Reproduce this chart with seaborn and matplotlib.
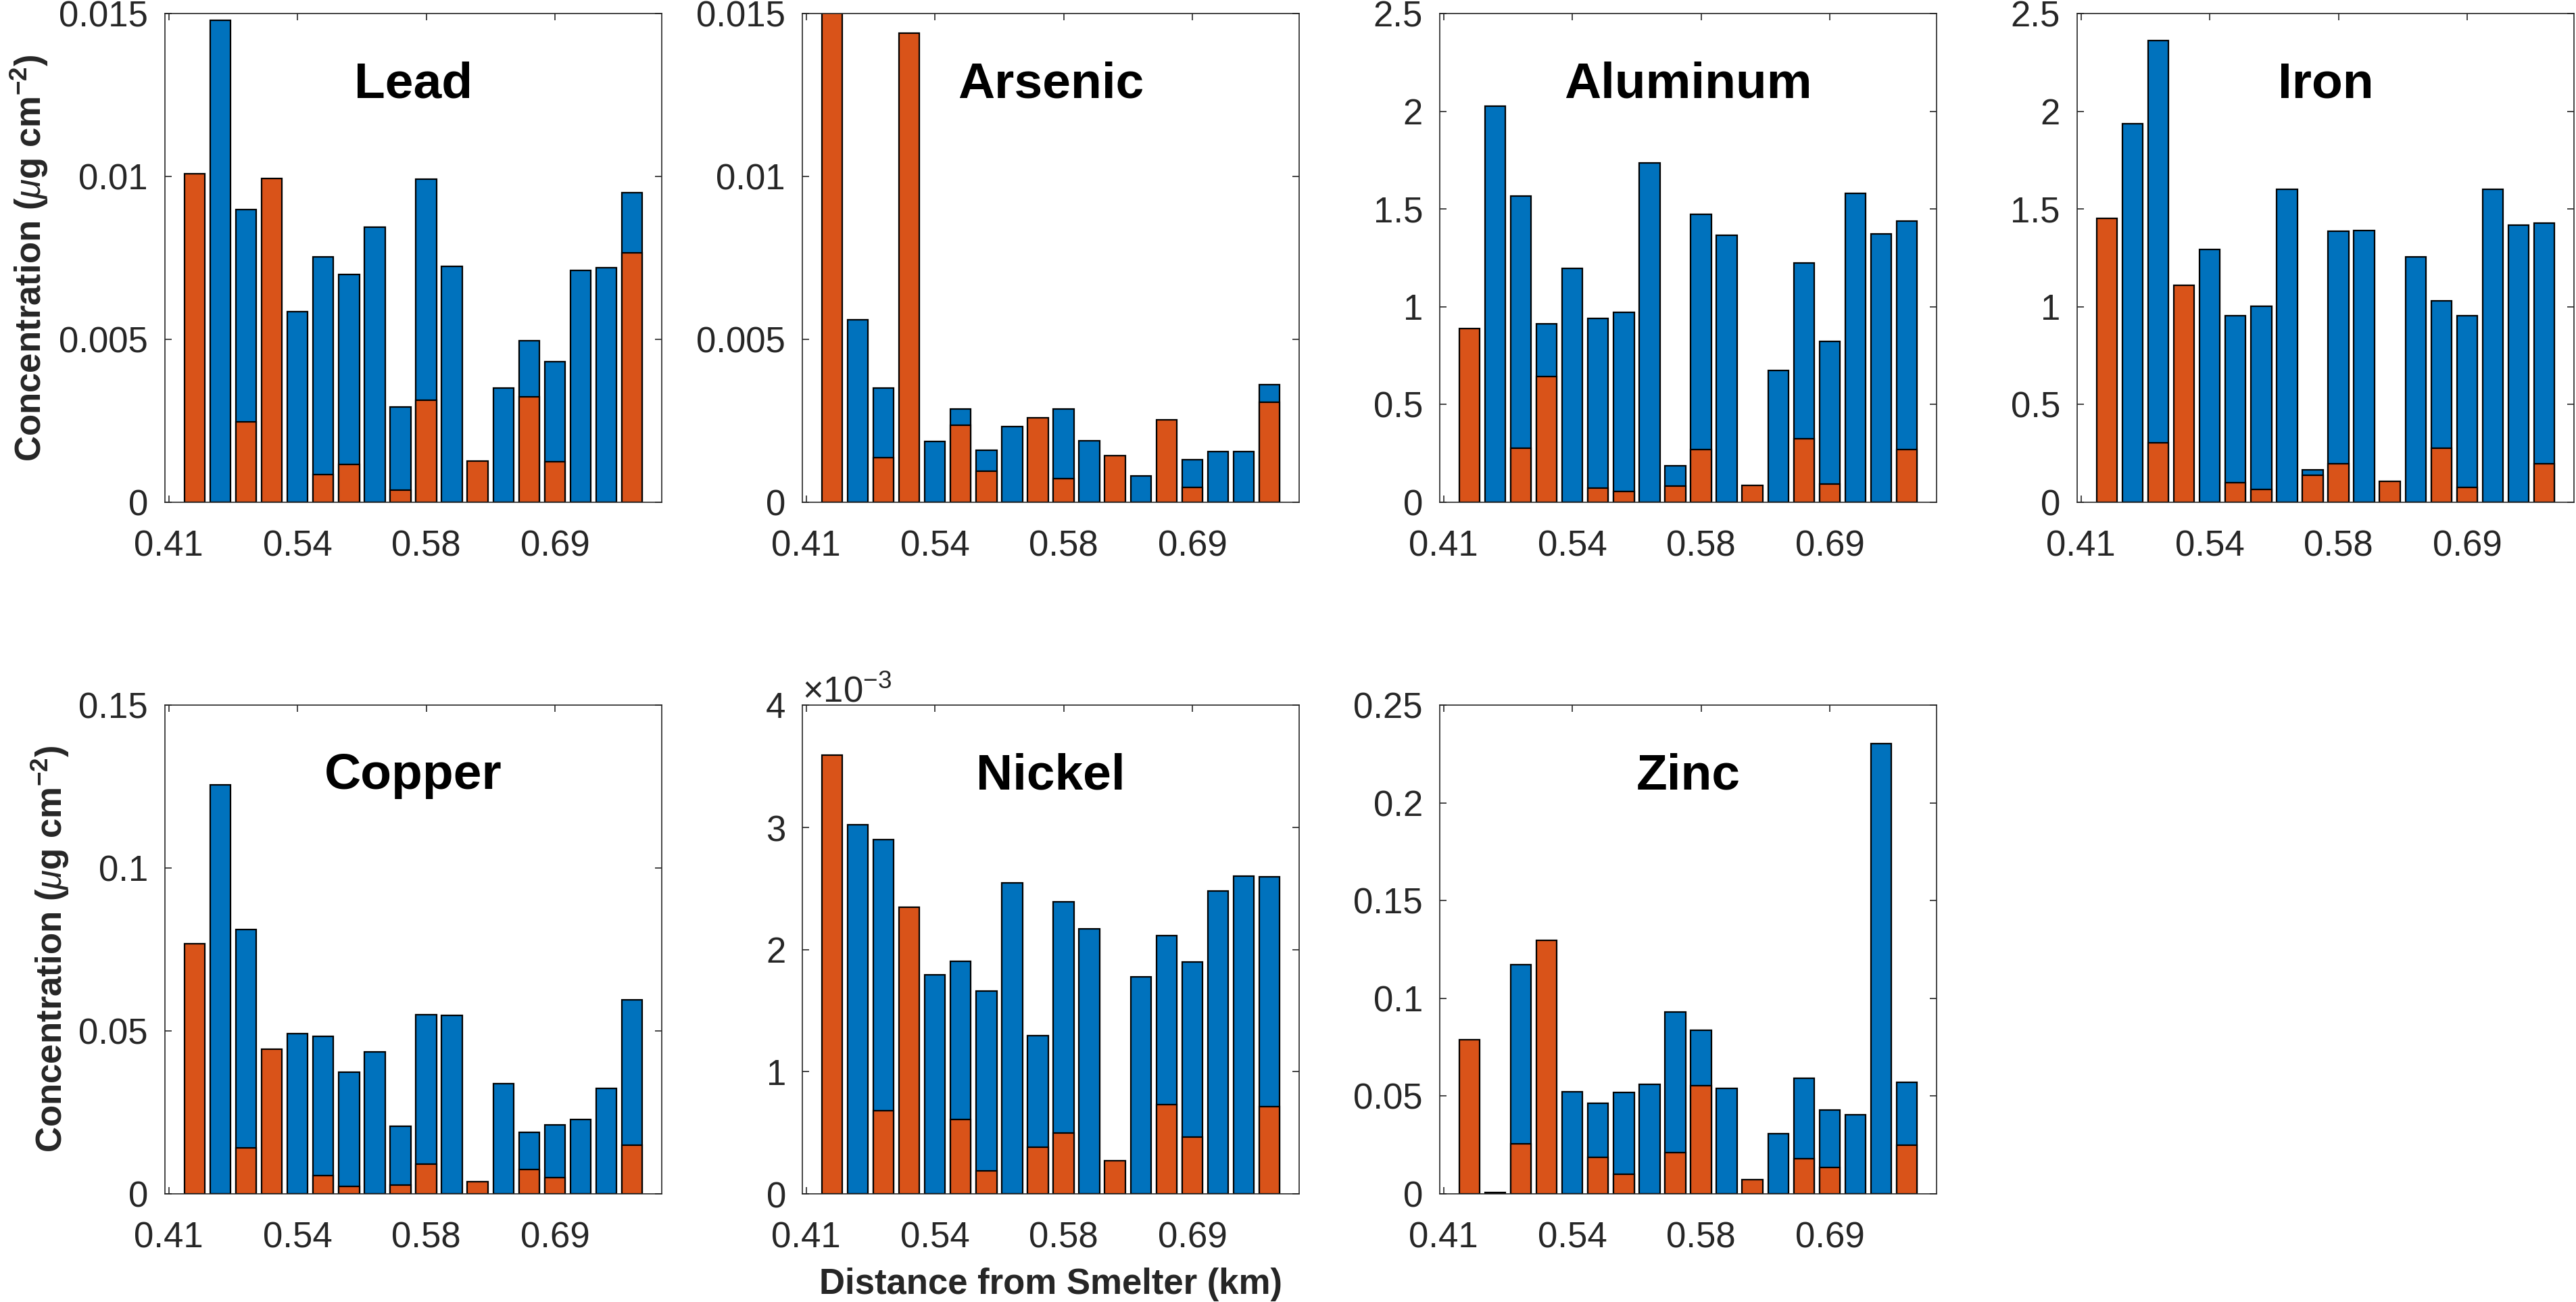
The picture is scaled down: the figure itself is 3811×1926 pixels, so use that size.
import matplotlib
matplotlib.use("Agg")
import matplotlib.pyplot as plt
import seaborn as sns
from matplotlib.ticker import FuncFormatter, ScalarFormatter

sns.set_theme(style="ticks")
plt.rcParams["font.family"] = ["Liberation Sans", "DejaVu Sans"]
plt.rcParams["mathtext.fontset"] = "custom"
plt.rcParams["mathtext.rm"] = "Liberation Sans"
plt.rcParams["mathtext.it"] = "Liberation Sans:italic"
plt.rcParams["mathtext.bf"] = "Liberation Sans:bold"

# ------------------------------------------------------------
# Data (18 sampling sites, two overlaid series per element)
# ------------------------------------------------------------
sites = [1, 2, 3, 4, 5, 6, 7, 8, 9, 10, 11, 12, 13, 14, 15, 16, 17, 18]
tick_pos = [0, 5, 10, 15]
tick_labels = ["0.41", "0.54", "0.58", "0.69"]

lead_bg = [0, 0.0148, 0.00898, 0, 0.00585, 0.00753, 0.0070, 0.00845, 0.00293,
           0.00992, 0.00725, 0, 0.0035, 0.00496, 0.00432, 0.00712, 0.0072, 0.0095]
lead_fg = [0.01009, 0, 0.00246, 0.00993, 0, 0.00086, 0.00116, 0, 0.00037,
           0.00314, 0, 0.00127, 0, 0.00323, 0.00125, 0, 0, 0.00766]

arsenic_bg = [0, 0.0056, 0.0035, 0, 0.00187, 0.00287, 0.0016, 0.00233, 0,
              0.00287, 0.00189, 0, 0.00081, 0, 0.0013, 0.00156, 0.00156, 0.0036]
arsenic_fg = [0.0155, 0, 0.00137, 0.0144, 0, 0.00237, 0.00095, 0, 0.00259,
              0.00072, 0, 0.00143, 0, 0.00254, 0.00046, 0, 0, 0.00307]

aluminum_bg = [0, 2.025, 1.567, 0.914, 1.197, 0.940, 0.970, 1.736, 0.188,
               1.472, 1.366, 0, 0.673, 1.225, 0.824, 1.581, 1.373, 1.440]
aluminum_fg = [0.889, 0, 0.276, 0.643, 0, 0.072, 0.055, 0, 0.083,
               0.268, 0, 0.085, 0, 0.324, 0.092, 0, 0, 0.269]

iron_bg = [0, 1.938, 2.361, 0, 1.292, 0.954, 1.004, 1.600, 0.165,
           1.386, 1.391, 0, 1.254, 1.032, 0.956, 1.600, 1.419, 1.428]
iron_fg = [1.452, 0, 0.306, 1.109, 0, 0.102, 0.065, 0, 0.137,
           0.197, 0, 0.106, 0, 0.278, 0.076, 0, 0, 0.197]

copper_bg = [0, 0.1255, 0.0811, 0, 0.0492, 0.0484, 0.0374, 0.0436, 0.0207,
             0.0550, 0.0547, 0, 0.0338, 0.0188, 0.0212, 0.0228, 0.0324, 0.0595]
copper_fg = [0.0767, 0, 0.0141, 0.0444, 0, 0.0056, 0.0022, 0, 0.0028,
             0.0092, 0, 0.0038, 0, 0.0075, 0.0050, 0, 0, 0.0150]

nickel_bg = [0, 3.020e-3, 2.899e-3, 0, 1.791e-3, 1.905e-3, 1.660e-3, 2.544e-3, 1.294e-3,
             2.388e-3, 2.167e-3, 0, 1.777e-3, 2.116e-3, 1.895e-3, 2.481e-3, 2.599e-3, 2.595e-3]
nickel_fg = [3.593e-3, 0, 0.683e-3, 2.347e-3, 0, 0.607e-3, 0.190e-3, 0, 0.380e-3,
             0.500e-3, 0, 0.273e-3, 0, 0.728e-3, 0.466e-3, 0, 0, 0.711e-3]

zinc_bg = [0, 0.0007, 0.1171, 0, 0.0522, 0.0464, 0.0518, 0.0561, 0.0930,
           0.0837, 0.0539, 0, 0.0308, 0.0593, 0.0429, 0.0403, 0.2304, 0.0569]
zinc_fg = [0.0789, 0, 0.0257, 0.1298, 0, 0.0186, 0.0101, 0, 0.0211,
           0.0552, 0, 0.0073, 0, 0.0179, 0.0136, 0, 0, 0.0250]

# name, background, foreground, y ticks, column, row
panels = [
    ("Lead", lead_bg, lead_fg, [0, 0.005, 0.01, 0.015], 0, 0),
    ("Arsenic", arsenic_bg, arsenic_fg, [0, 0.005, 0.01, 0.015], 1, 0),
    ("Aluminum", aluminum_bg, aluminum_fg, [0, 0.5, 1, 1.5, 2, 2.5], 2, 0),
    ("Iron", iron_bg, iron_fg, [0, 0.5, 1, 1.5, 2, 2.5], 3, 0),
    ("Copper", copper_bg, copper_fg, [0, 0.05, 0.1, 0.15], 0, 1),
    ("Nickel", nickel_bg, nickel_fg, [0, 1e-3, 2e-3, 3e-3, 4e-3], 1, 1),
    ("Zinc", zinc_bg, zinc_fg, [0, 0.05, 0.1, 0.15, 0.2, 0.25], 2, 1),
]

BLUE = "#0072BD"
ORANGE = "#D95319"
AX_COLOR = "#262626"
W, H = 3811, 1926

COL_LEFT = [244, 1187, 2130, 3073]
ROW_TOP = [20, 1043]
AX_W, AX_H = 735, 723

fig = plt.figure(figsize=(W / 100, H / 100), dpi=100)

for name, bg, fg, yticks, col, row in panels:
    left = COL_LEFT[col] / W
    bottom = 1 - (ROW_TOP[row] + AX_H) / H
    ax = fig.add_axes([left, bottom, AX_W / W, AX_H / H])

    for vals, color in [(bg, BLUE), (fg, ORANGE)]:
        sns.barplot(x=sites, y=vals, native_scale=True, color=color,
                    saturation=1, edgecolor="black", linewidth=1.6,
                    width=0.8, errorbar=None, ax=ax)

    ax.set_xlim(-0.15, 19.15)
    ax.set_ylim(yticks[0], yticks[-1])
    ax.set_xticks(tick_pos)
    ax.set_xticklabels(tick_labels)
    ax.set_yticks(yticks)
    if name == "Nickel":
        fmt = ScalarFormatter(useMathText=True)
        fmt.set_powerlimits((-3, -3))
        ax.yaxis.set_major_formatter(fmt)
        ax.yaxis.get_offset_text().set_fontsize(38)
        ax.yaxis.get_offset_text().set_color(AX_COLOR)
    else:
        ax.yaxis.set_major_formatter(FuncFormatter(lambda v, p: f"{v:g}"))
    ax.set_xlabel("")
    ax.set_ylabel("")

    for sp in ax.spines.values():
        sp.set_visible(True)
        sp.set_color(AX_COLOR)
        sp.set_linewidth(1.2)
    ax.tick_params(direction="in", length=7, width=1.2, top=True, right=True,
                   colors=AX_COLOR, labelsize=38)
    ax.tick_params(axis="x", pad=29)
    ax.tick_params(axis="y", pad=18)

    ax.text(0.5, 0.828, name, transform=ax.transAxes, ha="center",
            va="baseline", fontsize=54, fontweight="bold", color="black")

ylabel = r"Concentration ($\mu$g cm$^{\mathbf{-2}}$)"
fig.text(43 / W, 1 - 382 / H, ylabel, rotation=90, ha="center", va="center",
         fontsize=38, fontweight="bold", color=AX_COLOR)
fig.text(74 / W, 1 - 1404 / H, ylabel, rotation=90, ha="center", va="center",
         fontsize=38, fontweight="bold", color=AX_COLOR)
fig.text(1554 / W, 1 - 1900 / H, "Distance from Smelter (km)", ha="center",
         va="center", fontsize=38, fontweight="bold", color=AX_COLOR)

fig.savefig("out.png", dpi=100)
